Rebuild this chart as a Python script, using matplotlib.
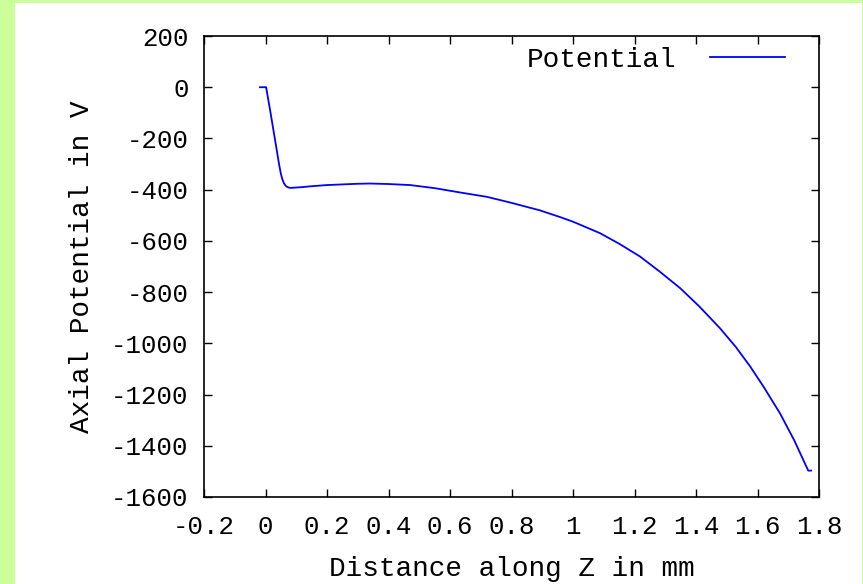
import matplotlib
matplotlib.use('Agg')
import matplotlib.pyplot as plt
from matplotlib.patches import Rectangle

# Data
z_mm = [-0.018, 0.002, 0.015, 0.031, 0.044, 0.05, 0.055, 0.06, 0.065, 0.07,
        0.076, 0.083, 0.095, 0.12, 0.145, 0.2, 0.3, 0.34, 0.40, 0.47, 0.55,
        0.633, 0.72, 0.795, 0.893, 0.958, 1.0, 1.088, 1.15, 1.218, 1.28,
        1.348, 1.41, 1.478, 1.53, 1.576, 1.62, 1.673, 1.72, 1.765, 1.774]
potential = [0, 0, -90, -205, -300, -338, -360, -375, -384, -389,
             -392, -393, -392, -390, -387, -382, -377, -376, -378, -382, -394,
             -411, -428, -450, -481, -507, -525, -570, -611, -661, -718,
             -784, -855, -941, -1015, -1090, -1170, -1273, -1380, -1497, -1497]

xticks = [-0.2, 0, 0.2, 0.4, 0.6, 0.8, 1.0, 1.2, 1.4, 1.6, 1.8]
xtick_labels = ['-0.2', '0', '0.2', '0.4', '0.6', '0.8', '1', '1.2', '1.4', '1.6', '1.8']
yticks = [200, 0, -200, -400, -600, -800, -1000, -1200, -1400, -1600]

plt.rcParams['font.family'] = ['Liberation Mono', 'DejaVu Sans Mono']
plt.rcParams['axes.unicode_minus'] = False

W, H = 863, 584
fig = plt.figure(figsize=(W / 100, H / 100), dpi=100)
fig.patch.set_facecolor('#ccff99')
# white panel inside the green border
fig.patches.append(Rectangle((15 / W, 0), (862 - 15) / W, (H - 3) / H,
                             transform=fig.transFigure, facecolor='white',
                             edgecolor='none', zorder=-10))

ax = fig.add_axes([204 / W, (H - 497) / H, 615 / W, 461 / H])
ax.set_facecolor('white')

ax.plot(z_mm, potential, color='#0000ff', linewidth=1.3, label='Potential')

ax.set_xlim(-0.2, 1.8)
ax.set_ylim(-1600, 200)
ax.set_xticks(xticks)
ax.set_xticklabels(xtick_labels)
ax.set_yticks(yticks)
ax.tick_params(direction='in', length=5.5, width=1, top=True, right=True,
               labelsize=18.5, pad=13, colors='black')
ax.tick_params(axis='y', pad=11)
for s in ax.spines.values():
    s.set_linewidth(1.2)

ax.set_xlabel('Distance along Z in mm', fontsize=20, labelpad=12)
ax.set_ylabel('Axial Potential in V', fontsize=20, labelpad=12)

ax.legend(loc='upper right', bbox_to_anchor=(0.985, 1.03), frameon=False,
          markerfirst=False, fontsize=20, handlelength=2.7, handletextpad=1.2)

fig.savefig('out.png', dpi=100, facecolor=fig.get_facecolor())
